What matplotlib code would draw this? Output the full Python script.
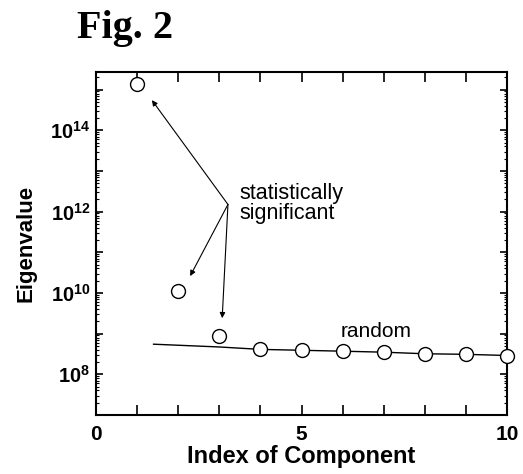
import numpy as np
import matplotlib.pyplot as plt
from matplotlib.ticker import LogLocator, NullFormatter

plt.rcParams['font.family'] = ['Liberation Sans', 'DejaVu Sans']
plt.rcParams['mathtext.fontset'] = 'custom'
plt.rcParams['mathtext.rm'] = 'Liberation Sans:bold'
plt.rcParams['mathtext.bf'] = 'Liberation Sans:bold'
plt.rcParams['mathtext.it'] = 'Liberation Sans:bold'

# eigenvalues
comp = [1, 2, 3, 4, 5, 6, 7, 8, 9, 10]
eig = [1.35e15, 1.1e10, 8.7e8, 4.1e8, 3.9e8, 3.7e8, 3.5e8, 3.2e8, 3.1e8, 2.9e8]

# "random" fit line
fit_x = [1.4, 3, 4, 5, 6, 7, 8, 9, 10]
fit_y = [5.5e8, 4.7e8, 4.1e8, 3.9e8, 3.7e8, 3.5e8, 3.2e8, 3.1e8, 2.9e8]

# arrows from the label to the significant components
arrow_from = (3.21, 1.5e12)
arrow_to = [(1.36, 5.5e14), (2.29, 2.6e10), (3.07, 2.4e9)]

ytick_vals = [1e7, 1e8, 1e9, 1e10, 1e11, 1e12, 1e13, 1e14, 1e15]
ytick_labels = ['', r'$10^{8}$', '', r'$10^{10}$', '', r'$10^{12}$', '', r'$10^{14}$', '']

fig = plt.figure(figsize=(5.23, 4.74), dpi=100)
ax = fig.add_axes([0.1836, 0.1245, 0.7858, 0.7235])

ax.plot(fit_x, fit_y, color='k', lw=1.0, zorder=2)
ax.plot(comp, eig, 'o', ms=10, mfc='white', mec='k', mew=1.0, zorder=3, clip_on=False)

for tx, ty in arrow_to:
    ax.annotate('', xy=(tx, ty), xytext=arrow_from,
                arrowprops=dict(arrowstyle='-|>', lw=0.8, color='k', mutation_scale=8,
                                shrinkA=0, shrinkB=0))

ax.text(3.5, 10**12.2, 'statistically\nsignificant', fontsize=15.5, ha='left', va='center',
        linespacing=0.95)
ax.text(5.94, 10**9.06, 'random', fontsize=15, ha='left', va='center')

ax.set_yscale('log')
ax.set_xlim(0, 10)
ax.set_ylim(1e7, 2.7e15)

ax.set_xticks(np.arange(0, 11, 1))
ax.set_xticklabels(['0', '', '', '', '', '5', '', '', '', '', '10'], fontsize=15, fontweight='bold')
ax.set_yticks(ytick_vals)
ax.set_yticklabels(ytick_labels, fontsize=14.5)
ax.yaxis.set_minor_locator(LogLocator(base=10, subs=np.arange(2, 10), numticks=20))
ax.yaxis.set_minor_formatter(NullFormatter())

ax.tick_params(axis='both', which='both', direction='in', top=True, right=True)
ax.tick_params(axis='x', which='major', length=7, width=1.2, pad=7)
ax.tick_params(axis='y', which='major', length=5, width=1.2, pad=4)
ax.tick_params(axis='y', which='minor', length=2.5, width=0.8)
for s in ax.spines.values():
    s.set_linewidth(1.5)

ax.set_xlabel('Index of Component', fontsize=17, fontweight='bold', labelpad=1)
ax.set_ylabel('Eigenvalue', fontsize=16, fontweight='bold', labelpad=10)

fig.text(0.24, 0.92, 'Fig. 2', fontsize=29, fontweight='bold', ha='center', va='baseline',
         family=['Liberation Serif', 'DejaVu Serif'])

fig.savefig('out.png', dpi=100)
